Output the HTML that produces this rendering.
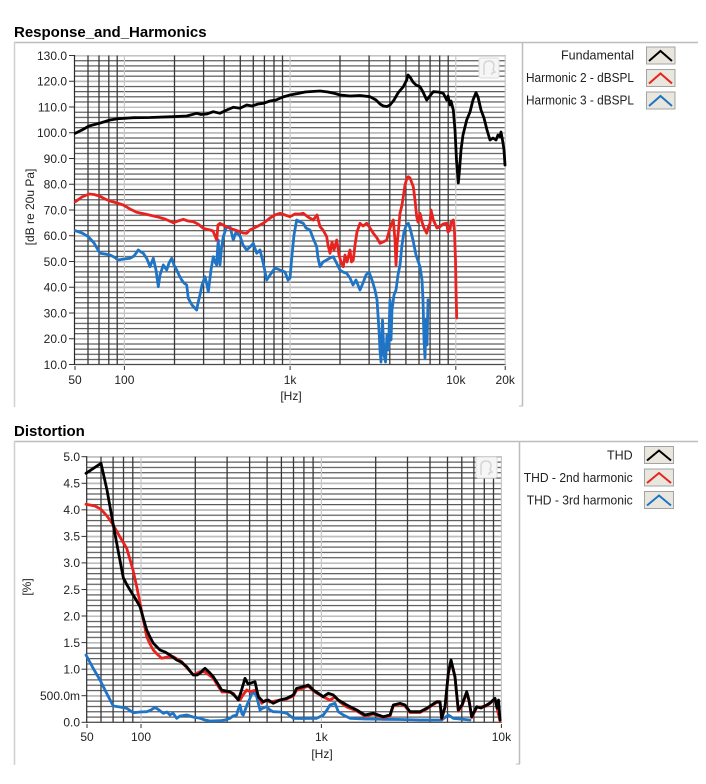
<!DOCTYPE html>
<html>
<head>
<meta charset="utf-8">
<style>
html,body{margin:0;padding:0;background:#fff;}
svg{display:block;}
text{font-family:"Liberation Sans",sans-serif;}
</style>
</head>
<body>
<svg width="706" height="784" viewBox="0 0 706 784" xmlns="http://www.w3.org/2000/svg">
<defs>
  <pattern id="hmin1" patternUnits="userSpaceOnUse" x="0" y="55" width="20" height="5.15">
    <rect x="0" y="0" width="20" height="1.2" fill="#585858"/>
  </pattern>
  <pattern id="hmaj1" patternUnits="userSpaceOnUse" x="0" y="55" width="20" height="25.75">
    <rect x="0" y="0" width="20" height="1.2" fill="#c4c4c4"/>
  </pattern>
  <pattern id="hmin2" patternUnits="userSpaceOnUse" x="0" y="456.2" width="20" height="5.312">
    <rect x="0" y="0" width="20" height="1.2" fill="#585858"/>
  </pattern>
  <pattern id="hmaj2" patternUnits="userSpaceOnUse" x="0" y="456.2" width="20" height="26.56">
    <rect x="0" y="0" width="20" height="1.2" fill="#c4c4c4"/>
  </pattern>
</defs>

<!-- ================= TOP PANEL ================= -->
<text x="14" y="37" font-size="15" font-weight="bold" fill="#000">Response_and_Harmonics</text>
<line x1="14" y1="42.5" x2="698" y2="42.5" stroke="#bdbdbd" stroke-width="1.5"/>
<line x1="14.5" y1="42" x2="14.5" y2="407" stroke="#cfcfcf" stroke-width="1.5"/>
<line x1="522.5" y1="42" x2="522.5" y2="406" stroke="#bdbdbd" stroke-width="1.5"/>
<line x1="519" y1="406" x2="523" y2="406" stroke="#bdbdbd" stroke-width="1"/>

<!-- grid -->
<rect x="74.5" y="55" width="431.2" height="310" fill="#fff"/>
<rect x="74.5" y="55" width="431.2" height="310" fill="url(#hmin1)"/>
<rect x="74.5" y="55" width="431.2" height="310" fill="url(#hmaj1)"/>
<line x1="74.5" y1="364.5" x2="505.7" y2="364.5" stroke="#4a4a4a" stroke-width="1.2"/>
<g stroke="#383838" stroke-width="1.3">
  <line x1="88" y1="55.5" x2="88" y2="364.5"/>
  <line x1="99" y1="55.5" x2="99" y2="364.5"/>
  <line x1="108.8" y1="55.5" x2="108.8" y2="364.5"/>
  <line x1="117.2" y1="55.5" x2="117.2" y2="364.5"/>
  <line x1="174.5" y1="55.5" x2="174.5" y2="364.5"/>
  <line x1="203.6" y1="55.5" x2="203.6" y2="364.5"/>
  <line x1="224.2" y1="55.5" x2="224.2" y2="364.5"/>
  <line x1="240.3" y1="55.5" x2="240.3" y2="364.5"/>
  <line x1="253.3" y1="55.5" x2="253.3" y2="364.5"/>
  <line x1="264.4" y1="55.5" x2="264.4" y2="364.5"/>
  <line x1="274" y1="55.5" x2="274" y2="364.5"/>
  <line x1="282.5" y1="55.5" x2="282.5" y2="364.5"/>
  <line x1="340" y1="55.5" x2="340" y2="364.5"/>
  <line x1="369.1" y1="55.5" x2="369.1" y2="364.5"/>
  <line x1="389.8" y1="55.5" x2="389.8" y2="364.5"/>
  <line x1="405.9" y1="55.5" x2="405.9" y2="364.5"/>
  <line x1="419" y1="55.5" x2="419" y2="364.5"/>
  <line x1="430.1" y1="55.5" x2="430.1" y2="364.5"/>
  <line x1="439.7" y1="55.5" x2="439.7" y2="364.5"/>
  <line x1="448.2" y1="55.5" x2="448.2" y2="364.5"/>
</g>
<g stroke="#c8c8c8" stroke-width="1.2">
  <line x1="124.4" y1="55.5" x2="124.4" y2="364.5"/>
  <line x1="290.1" y1="55.5" x2="290.1" y2="364.5"/>
  <line x1="455.8" y1="55.5" x2="455.8" y2="364.5"/>
  <line x1="505.2" y1="55.5" x2="505.2" y2="364.5"/>
</g>
<line x1="74.5" y1="55" x2="74.5" y2="365" stroke="#2a2a2a" stroke-width="1.2"/>

<!-- watermark -->
<rect x="479" y="58" width="20" height="20" rx="2" fill="#f6f6f6" stroke="#dcdcdc" stroke-width="1"/>
<path d="M484 75 L484 66 Q484 61 489 61 Q494 61 494 66 L493 70 L495 72 L492 73 L492 75" fill="none" stroke="#d6d6d6" stroke-width="1.5"/>

<!-- y ticks & labels -->
<g stroke="#333" stroke-width="1">
  <line x1="69" y1="55.5" x2="74.5" y2="55.5"/>
  <line x1="69" y1="81.25" x2="74.5" y2="81.25"/>
  <line x1="69" y1="107" x2="74.5" y2="107"/>
  <line x1="69" y1="132.75" x2="74.5" y2="132.75"/>
  <line x1="69" y1="158.5" x2="74.5" y2="158.5"/>
  <line x1="69" y1="184.25" x2="74.5" y2="184.25"/>
  <line x1="69" y1="210" x2="74.5" y2="210"/>
  <line x1="69" y1="235.75" x2="74.5" y2="235.75"/>
  <line x1="69" y1="261.5" x2="74.5" y2="261.5"/>
  <line x1="69" y1="287.25" x2="74.5" y2="287.25"/>
  <line x1="69" y1="313" x2="74.5" y2="313"/>
  <line x1="69" y1="338.75" x2="74.5" y2="338.75"/>
  <line x1="69" y1="364.5" x2="74.5" y2="364.5"/>
  <line x1="75" y1="366" x2="75" y2="370"/>
  <line x1="124.4" y1="366" x2="124.4" y2="370"/>
  <line x1="290.1" y1="366" x2="290.1" y2="370"/>
  <line x1="455.8" y1="366" x2="455.8" y2="370"/>
  <line x1="505.2" y1="366" x2="505.2" y2="370"/>
</g>
<g font-size="12" fill="#222" text-anchor="end">
  <text x="67" y="59.8">130.0</text>
  <text x="67" y="85.5">120.0</text>
  <text x="67" y="111.3">110.0</text>
  <text x="67" y="137">100.0</text>
  <text x="67" y="162.8">90.0</text>
  <text x="67" y="188.5">80.0</text>
  <text x="67" y="214.3">70.0</text>
  <text x="67" y="240">60.0</text>
  <text x="67" y="265.8">50.0</text>
  <text x="67" y="291.5">40.0</text>
  <text x="67" y="317.3">30.0</text>
  <text x="67" y="343">20.0</text>
  <text x="67" y="368.8">10.0</text>
</g>
<g font-size="12" fill="#222" text-anchor="middle">
  <text x="75" y="384">50</text>
  <text x="124.4" y="384">100</text>
  <text x="290.1" y="384">1k</text>
  <text x="455.8" y="384">10k</text>
  <text x="505.2" y="384">20k</text>
  <text x="291" y="400">[Hz]</text>
</g>
<text x="0" y="0" font-size="12" fill="#222" text-anchor="middle" transform="translate(34 207) rotate(-90)">[dB re 20u Pa]</text>

<!-- series top -->
<g fill="none" stroke-width="2.8" stroke-linejoin="round" stroke-linecap="round">
<polyline stroke="#1f74c6" points="75.3,230.7 82,233 88.3,236.7 94,243 100,253.3 105,254 110,255 114,257 118.3,260 124,259 130,258.3 134,256 138.3,250 141,252 143.3,253.3 147,259 150,266.7 153.3,258.3 156,270 158.3,286.7 160,275 163.3,265 166.7,270 169,263 171.7,258.3 174,265 176.7,270 179,275 181.7,280 184,283 186.7,285 188.3,298.3 192,305 196.7,310 198,303 200,295 202,285 205,276.7 207,285 208.3,291.7 211,270 213.3,256.7 215,262 216.7,265 217.5,250 218.3,240 219,258 220,265 221.5,248 223.3,236.7 226.7,226.7 230,226.7 233.3,240 236,232 240,236 243,245 246.7,250 250,247 253.3,243.3 256.7,253.3 260,250 263,262 266.7,280 270,275 275,268 280,270 285,272 288,280 290,278 292,255 294,235 296.7,220 300,222 303.3,223.3 306,228 310,230 313,238 316.7,246.7 318,258 320,266.7 323,262 326.7,260 330,258 333.3,256.7 336,262 340,270 343,272 346.7,273.3 350,278 353,285 356,280 360,290 363,283 366,275 369,272 372,280 375,290 377,300 379,330 380,350 381,362 382.5,320 384,355 385.5,362 387,335 388.5,350 390,300 391,340 392,310 394,295 396,290 398,275 400,265 402,245 404,232 406,226 408.3,223.3 410,228 413,240 416,255 420,266.7 422,280 423,300 424,340 425,358 426,320 427,345 428,300"/>
<polyline stroke="#e8231f" points="75.3,201.7 82,197 89,194 94,194.5 99.3,196 105,199 110,201 117,203 123.3,205 130,209 136.7,212.3 145,214 156.7,216.7 165,219 173.3,222.7 178,221 183.3,219.3 188,221 193.3,221.7 198,224 203.3,228.3 210,230 213,231 216.7,240 218,225 220,223.3 225,226 230,228.3 235,230 240,231.7 243,233 246.7,233.3 250,230 256.7,226.7 263.3,223.3 270,218 275,215 280,213.3 285,215 290,216.7 295,214 300,214 303.3,213.3 308,217 313.3,220 317,215 320,226.7 323,230 326.7,236.7 328,245 330,253.3 332,242 334,250 336.7,240 339,255 341,262 343.3,266.7 345,255 347,262 350,250 351.5,262 353.3,260 355,245 357,232 360,223.3 363,226 366.7,223.3 370,228 373.3,233.3 377,238 380,243.3 383,242 386.7,240 390,228 393.3,220 395,240 396,265 397,245 398.5,230 400,213.3 402,205 403.3,196.7 405,185 407,178 408.3,176.7 410,178 413.3,186.7 415,200 416.7,216.7 418,222 420,213.3 422,222 424,228 426.7,233.3 428,228 430,223.3 431,210 433.3,220 437,228 440,226.7 443,224 446.7,223.3 448,232 450,230 451,222 453.3,220 454.5,232 455.5,260 456,290 456.7,318"/>
<polyline stroke="#000" points="75.3,133.3 82,130 89,126 99.3,123.3 110,120 117.7,118.7 133.3,117.7 150,117.5 173.3,116.7 186.7,116 196.7,113.3 201,114.5 206.7,114 213.3,111.7 220,113.3 226.7,110 233.3,107.3 240,108.3 246.7,105 252,106 258,104 263.3,103.3 270,101 276,100 283,97 290,95 298,93.5 305,92 312,91.5 320,91 328,92 335,93.5 340,95 350,96 360,95.5 370,96.7 376,100 380,104 383.3,106 387,106.5 390,105 394,100 398,93 403.3,86.7 406.7,80 408,75 410,77 413,82 416,85 420,86.7 423,92 426.7,100 429,97 433.3,91.7 438,92 443.3,93.3 446.7,100 448,96 450,105 451,101 453.3,110 455,130 456.5,160 458.3,183 459.5,170 461,150 463,135 466.7,120 470,112 473,100 476,92.7 478,97 481,110 484,118 487,130 490,140 493,138 496,140 498,135 500,136.7 501,132 503,143 504,150 505,165"/>
</g>

<!-- legend top -->
<g font-size="12.5" fill="#222" text-anchor="end">
  <text x="634" y="59.5">Fundamental</text>
  <text x="634" y="82" textLength="108" lengthAdjust="spacingAndGlyphs">Harmonic 2 - dBSPL</text>
  <text x="634" y="104.5" textLength="108" lengthAdjust="spacingAndGlyphs">Harmonic 3 - dBSPL</text>
</g>
<g stroke="#a3a3a3" stroke-width="1" fill="#e9e7dd">
  <rect x="646.5" y="47" width="28.5" height="17"/>
  <rect x="646.5" y="69.5" width="28.5" height="17"/>
  <rect x="646.5" y="92" width="28.5" height="17"/>
</g>
<g fill="none" stroke-width="2" stroke-linejoin="miter">
  <polyline stroke="#000" points="649,61 660.5,51 672,61"/>
  <polyline stroke="#e8231f" points="649,83.5 660.5,73.5 672,83.5"/>
  <polyline stroke="#1f74c6" points="649,106 660.5,96 672,106"/>
</g>

<!-- ================= BOTTOM PANEL ================= -->
<text x="14" y="436" font-size="15" font-weight="bold" fill="#000">Distortion</text>
<line x1="14" y1="441.5" x2="698" y2="441.5" stroke="#bdbdbd" stroke-width="1.5"/>
<line x1="14.5" y1="441" x2="14.5" y2="765" stroke="#cfcfcf" stroke-width="1.5"/>
<line x1="519.5" y1="441" x2="519.5" y2="764" stroke="#bdbdbd" stroke-width="1.5"/>
<line x1="516" y1="764" x2="520" y2="764" stroke="#bdbdbd" stroke-width="1"/>

<rect x="86.7" y="456.2" width="415.1" height="266.6" fill="#fff"/>
<rect x="86.7" y="456.2" width="415.1" height="266.6" fill="url(#hmin2)"/>
<rect x="86.7" y="456.2" width="415.1" height="266.6" fill="url(#hmaj2)"/>
<line x1="86.7" y1="722.3" x2="501.8" y2="722.3" stroke="#4a4a4a" stroke-width="1.2"/>
<g stroke="#383838" stroke-width="1.3">
  <line x1="101" y1="456.7" x2="101" y2="722.3"/>
  <line x1="113.1" y1="456.7" x2="113.1" y2="722.3"/>
  <line x1="123.5" y1="456.7" x2="123.5" y2="722.3"/>
  <line x1="132.8" y1="456.7" x2="132.8" y2="722.3"/>
  <line x1="195.3" y1="456.7" x2="195.3" y2="722.3"/>
  <line x1="227.1" y1="456.7" x2="227.1" y2="722.3"/>
  <line x1="249.6" y1="456.7" x2="249.6" y2="722.3"/>
  <line x1="267.1" y1="456.7" x2="267.1" y2="722.3"/>
  <line x1="281.4" y1="456.7" x2="281.4" y2="722.3"/>
  <line x1="293.5" y1="456.7" x2="293.5" y2="722.3"/>
  <line x1="303.9" y1="456.7" x2="303.9" y2="722.3"/>
  <line x1="313.1" y1="456.7" x2="313.1" y2="722.3"/>
  <line x1="375.7" y1="456.7" x2="375.7" y2="722.3"/>
  <line x1="407.5" y1="456.7" x2="407.5" y2="722.3"/>
  <line x1="430" y1="456.7" x2="430" y2="722.3"/>
  <line x1="447.5" y1="456.7" x2="447.5" y2="722.3"/>
  <line x1="461.8" y1="456.7" x2="461.8" y2="722.3"/>
  <line x1="473.9" y1="456.7" x2="473.9" y2="722.3"/>
  <line x1="484.3" y1="456.7" x2="484.3" y2="722.3"/>
  <line x1="493.5" y1="456.7" x2="493.5" y2="722.3"/>
</g>
<g stroke="#c8c8c8" stroke-width="1.2">
  <line x1="141" y1="456.7" x2="141" y2="722.3"/>
  <line x1="321.4" y1="456.7" x2="321.4" y2="722.3"/>
  <line x1="501.4" y1="456.7" x2="501.4" y2="722.3"/>
</g>
<line x1="86.7" y1="456.2" x2="86.7" y2="723" stroke="#2a2a2a" stroke-width="1.2"/>

<rect x="476" y="457" width="21" height="21" rx="2" fill="#f6f6f6" stroke="#dcdcdc" stroke-width="1"/>
<path d="M481 75 L481 66 Q481 61 486 61 Q491 61 491 66 L490 70 L492 72 L489 73 L489 75" transform="translate(0 400)" fill="none" stroke="#d6d6d6" stroke-width="1.5"/>

<g stroke="#333" stroke-width="1">
  <line x1="81.5" y1="456.7" x2="86.7" y2="456.7"/>
  <line x1="81.5" y1="483.3" x2="86.7" y2="483.3"/>
  <line x1="81.5" y1="509.8" x2="86.7" y2="509.8"/>
  <line x1="81.5" y1="536.4" x2="86.7" y2="536.4"/>
  <line x1="81.5" y1="562.9" x2="86.7" y2="562.9"/>
  <line x1="81.5" y1="589.5" x2="86.7" y2="589.5"/>
  <line x1="81.5" y1="616" x2="86.7" y2="616"/>
  <line x1="81.5" y1="642.6" x2="86.7" y2="642.6"/>
  <line x1="81.5" y1="669.2" x2="86.7" y2="669.2"/>
  <line x1="81.5" y1="695.7" x2="86.7" y2="695.7"/>
  <line x1="81.5" y1="722.3" x2="86.7" y2="722.3"/>
  <line x1="87" y1="724" x2="87" y2="728"/>
  <line x1="141" y1="724" x2="141" y2="728"/>
  <line x1="321.4" y1="724" x2="321.4" y2="728"/>
  <line x1="501.4" y1="724" x2="501.4" y2="728"/>
</g>
<g font-size="12" fill="#222" text-anchor="end">
  <text x="80" y="461">5.0</text>
  <text x="80" y="487.6">4.5</text>
  <text x="80" y="514.1">4.0</text>
  <text x="80" y="540.7">3.5</text>
  <text x="80" y="567.2">3.0</text>
  <text x="80" y="593.8">2.5</text>
  <text x="80" y="620.3">2.0</text>
  <text x="80" y="646.9">1.5</text>
  <text x="80" y="673.5">1.0</text>
  <text x="80" y="700">500.0m</text>
  <text x="80" y="726.6">0.0</text>
</g>
<g font-size="12" fill="#222" text-anchor="middle">
  <text x="87" y="741">50</text>
  <text x="141" y="741">100</text>
  <text x="321.4" y="741">1k</text>
  <text x="501.4" y="741">10k</text>
  <text x="322" y="758">[Hz]</text>
</g>
<text x="0" y="0" font-size="12" fill="#222" text-anchor="middle" transform="translate(31 587) rotate(-90)">[%]</text>

<g fill="none" stroke-width="2.8" stroke-linejoin="round" stroke-linecap="round">
<polyline stroke="#1f74c6" points="86,655 93,668 100,680 107,694 113.3,706 120,707 126.7,708.3 133.3,712.7 140,712 146.7,711.7 151,710 155,707.3 159,710 163.3,713.3 167,712 170,715 173,713 176.7,718.3 180,716 186.7,715 193,717 200,718.3 205,720 210,721 220,720.7 225,720 230,718.3 233,716 236.7,715 238,710 240,705 242,714 243.3,715 247,705 250,698.3 252,693 255,693.3 256.7,696.7 260,710 263,708 266.7,706.7 270,710 273.3,711.7 280,712 286.7,713.3 293.3,718.3 300,718.5 316.7,718.3 323.3,715 327,710 330,705 335,703.3 338.3,711.7 343.3,715 350,718.3 365,719 383.3,719.3 400,719.5 420,720 433.3,720 441.7,720 448.3,715 453.3,718.3 460,719 470,720"/>
<polyline stroke="#e8231f" points="86,504.3 95,506 101,509.3 107,516 113.3,525 120,537 126.7,548.3 133,570 137,588 140,603 146.7,636.7 150,644 153.3,650 157,654 161.7,658.3 167,657 173.3,656.7 177,659 181.7,661.7 187,668 193.3,675 197,673 200,671.7 205,672 209,675 213.3,678.3 218,686 222,692 228,692 233.3,693.3 236,697 240,700 243,695 246.7,690 250,691.7 256,690 261.7,703.3 266,700 270,702 280,700 286.7,699 293.3,696 296.7,690 303.3,688 308.3,686 313.3,691 318.3,694 323.3,697 330,700 335,697 340,702 346.7,707 356.7,711 365,716 373.3,714 383.3,717.5 390,716 393.3,706 400,704 405,706 410,712.5 420,712.5 426.7,709 436.7,702.5 440,702.5 441.7,719 445,707.5 448.3,674 451,661 455,677.5 458.3,711 462,706 466.7,692.5 469,701 471.7,717.5 476.7,707.5 486.7,706 495,699 500,721"/>
<polyline stroke="#000" points="86,473.3 101,463.3 107,490 113.3,525 118,550 123.3,577.7 127,585 130,590 135,598 140,606.7 146.7,630 150,637 153.3,643.3 160,650 165,652 170,655 176.7,660 181,662 186.7,666.7 190,671 193.3,675 197,675 200,673.3 203,670 205,668.3 209,672 213.3,676.7 218,684 221.7,690 226,691 230,691.7 234,695 238.3,700 241,692 245,678.3 248,684 250,683.3 255,681.7 258.3,696.7 263.3,701.7 268.3,700 273.3,703.3 280,700 286.7,698.3 293.3,695 296.7,688.3 303.3,686.7 308.3,685 313.3,690 318.3,693.3 323.3,696.7 328.3,693.3 333.3,695 338.3,700 346.7,705 356.7,710 365,715 373.3,713.3 383.3,716.7 390,715 393.3,705 400,703.3 405,705 410,711.7 420,711.7 426.7,708.3 436.7,701.7 440,701.7 441.7,718.3 445,706.7 448.3,673.3 451,660 455,676.7 458.3,710 462,705 466.7,691.7 469,700 471.7,716.7 476.7,706.7 481,708 486.7,705 490,703 495,698.3 497,708 498.5,700 500,720"/>
</g>

<g font-size="12.5" fill="#222" text-anchor="end">
  <text x="632.7" y="459.5">THD</text>
  <text x="632.7" y="482" textLength="109" lengthAdjust="spacingAndGlyphs">THD - 2nd harmonic</text>
  <text x="632.7" y="504.5" textLength="106" lengthAdjust="spacingAndGlyphs">THD - 3rd harmonic</text>
</g>
<g stroke="#a3a3a3" stroke-width="1" fill="#e9e7dd">
  <rect x="644.5" y="446.5" width="29" height="17"/>
  <rect x="644.5" y="469" width="29" height="17"/>
  <rect x="644.5" y="491.5" width="29" height="17"/>
</g>
<g fill="none" stroke-width="2" stroke-linejoin="miter">
  <polyline stroke="#000" points="647,460.5 659,450.5 671,460.5"/>
  <polyline stroke="#e8231f" points="647,483 659,473 671,483"/>
  <polyline stroke="#1f74c6" points="647,505.5 659,495.5 671,505.5"/>
</g>
</svg>
</body>
</html>
